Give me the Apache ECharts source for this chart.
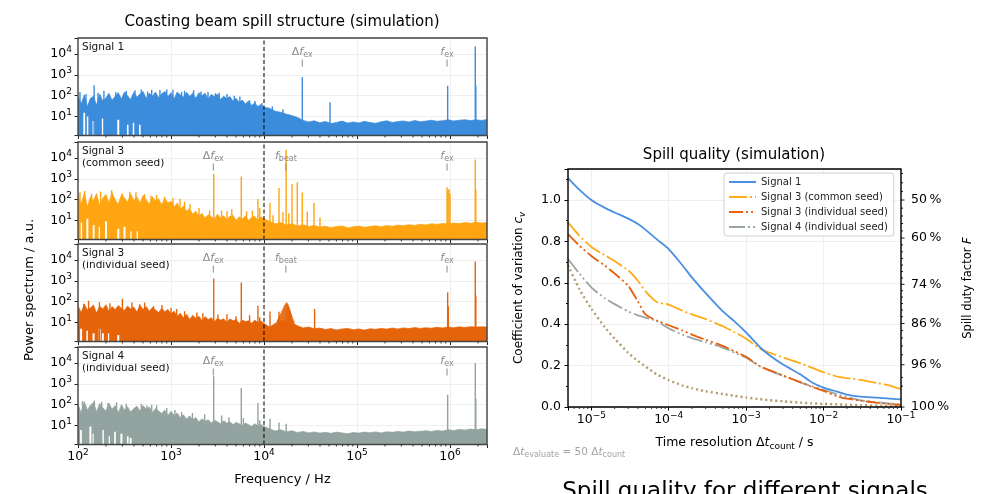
<!DOCTYPE html>
<html>
<head>
<meta charset="utf-8">
<title>Coasting beam spill structure</title>
<script src="https://cdn.jsdelivr.net/npm/echarts@6/dist/echarts.min.js"></script>
<style>
  html, body { margin: 0; padding: 0; background: #fff; }
  #main { width: 995px; height: 494px; }
</style>
</head>
<body>
<div id="main"></div>
<script>
// spectra: frequency grid (Hz) and the top of the noise band at each point
var freqs = [100,108,117,126,136,147,158,171,185,200,215,232,251,271,293,316,341,368,398,430,
  464,501,541,584,631,681,736,794,858,926,1000,1080,1166,1259,1359,1468,1585,1711,1848,1995,
  2154,2326,2512,2712,2929,3162,3415,3687,3981,4299,4642,5012,5412,5843,6310,6813,7356,7943,8577,9261,
  10000,11480,13180,15140,17380,19950,22910,26300,30200,34670,39810,45710,52480,60260,69180,79430,
  91200,104700,120200,138000,158500,182000,208900,239900,275400,316200,363100,416900,478600,549500,
  631000,724400,831800,955000,1096000,1259000,1445000,1660000,1905000,2188000,2512000];

var sig1Top = [90,40,110,30,75,95,35,120,55,80,
  130,60,95,140,70,150,100,65,145,85,
  120,160,75,130,95,150,80,125,160,90,
  140,70,150,110,85,145,95,130,75,140,
  100,130,70,115,90,120,65,95,75,90,
  55,75,48,62,40,55,34,45,30,38,
  28,25,18,16,13,11,9,6.5,5.5,6.2,5,
  5.8,4.6,5.2,6,4.8,5.5,4.9,5.9,5.1,4.7,
  5.6,6.2,5.2,5.7,6.1,5.4,6.4,5.6,6,6.6,
  5.9,6.3,6.9,6.1,6.6,7,6.4,6.9,6.5,7.2];
var sig1Gaps = [[117,15],[126,10],[147,6],[185,8],[271,7],[341,4],[398,5],[464,4]];
var sig1Spikes = [[105,150],[122,120],[149,320],[164,140],[190,170],[255,150],[330,170],[410,180],
  [480,200],[560,160],[620,190],[760,185],[900,200],[1050,190],[1300,150],[1400,170],[1750,180],
  [2100,160],[2500,150],[3000,130],[3300,140],[4000,120],[4800,100],[5500,90],[7000,60],[8000,55],
  [9500,45],[12300,30],[16000,22],
  [25800,780],[51300,48],[944000,300],[1870000,23000],[1895000,300]];

var sig3cTop = [170,60,210,45,140,90,200,50,120,180,
  70,220,100,60,170,120,75,190,90,140,
  70,160,100,60,140,85,110,55,120,70,
  85,45,70,35,50,28,38,20,28,16,
  22,13,19,15,12,20,13,17,11,16,
  18,10,15,12,17,10,14,16,10,15,
  12,9,7,8,6,7,5.5,6.3,5.2,5.8,4.8,
  5.3,4.6,5.1,5.5,4.5,5,5.4,4.7,5.2,5.6,
  5,5.7,5.3,6,5.6,6.3,5.8,6.6,6.1,7,
  6.5,7.2,6.8,7.6,7.1,8,7.4,8.2,7.6,8];
var sig3cGaps = [[108,8],[126,12],[147,6],[171,5],[200,9],[271,4],[316,5],[368,3],[430,3]];
var sig3cSpikes = [[105,230],[118,260],[140,190],[175,250],[230,280],[300,200],[360,240],[420,230],
  [520,180],[610,150],[700,170],[850,140],[1050,120],[1250,110],[1400,80],[1600,60],[2000,40],
  [2600,30],[3500,30],[4000,28],[4500,35],[6500,28],[7500,30],[9000,40],
  [2880,1700],[5700,1300],[8600,107],[11600,69],[12500,18],[14500,360],[16000,25],
  [17300,25000],[18500,22],[20000,560],[22800,690],[25800,220],[29200,27],[34500,69],[40000,14],
  [930000,400],[950000,280],[975000,330],[1000000,200],[1870000,8500],[1895000,300]];

var sig3iTop = [65,30,75,40,50,70,28,60,45,72,
  35,58,42,65,48,38,62,45,55,32,
  68,42,58,35,52,40,30,48,33,42,
  26,35,20,28,17,25,14,22,16,20,
  12,19,14,17,11,16,13,15,10,15,
  12,14,9,13,11,12,9,13,10,12,
  9,6,9,12,12,10,7,5.5,6,5,5.4,
  4.6,5.1,4.4,4.9,5.2,4.5,4.9,4.3,5,4.7,
  5.2,4.8,5.4,4.9,5.5,5.1,5.7,5.2,5.6,5.3,
  5.9,5.5,6.1,5.6,6.2,5.8,6.3,6,6.2,6];
var sig3iGaps = [[108,5],[126,4],[147,3],[171,5],[185,3],[215,3],[271,2.5]];
var sig3iSpikes = [[115,80],[130,110],[170,95],[220,85],[300,137],[380,90],[460,75],[520,90],
  [650,60],[800,70],[1000,50],[1150,45],[1400,35],[1900,30],[2200,28],[3200,24],[4000,25],
  [5000,20],[7000,22],[9000,18],
  [2880,1300],[5700,830],[8600,63],[11600,34],[14500,33],
  [14000,14],[14400,18],[14800,22],[15200,28],[15600,36],[16000,46],[16400,58],[16800,72],
  [17200,85],[17600,90],[18000,78],[18400,62],[18800,48],[19200,36],[19600,27],[20000,20],
  [20400,15],[20800,12],[35000,44],[944000,280],[960000,60],[1870000,8500],[1895000,200]];

var sig4Top = [110,40,140,55,95,130,45,115,70,50,
  120,60,90,40,100,55,80,45,65,85,
  50,90,60,78,42,65,50,38,55,30,
  48,30,40,24,33,20,29,19,24,15,
  21,16,19,13,18,15,12,17,13,15,
  11,14,12,10,13,11,9,12,10,11,
  9,7,5.5,6.2,5,5.6,4.6,5.2,4.4,4.9,4.3,
  4.7,4.2,4.8,4.4,4,4.6,4.3,4.8,4.5,4.9,
  4.4,5,4.7,5.2,4.8,5.4,5,5.3,5.6,5.2,
  5.8,5.4,6.2,5.7,6.5,6,6.8,6.2,7,6.5];
var sig4Gaps = [[108,6],[136,9],[147,4],[185,6],[215,3],[251,5],[293,4],[341,3],[368,2.5]];
var sig4Spikes = [[112,150],[150,160],[180,140],[210,120],[260,130],[330,110],[480,110],[550,90],
  [620,100],[700,95],[900,70],[1100,55],[1300,45],[1700,40],[2300,35],[3500,30],[4200,25],
  [6000,22],[9000,18],
  [2880,2300],[5700,630],[8600,120],[11600,21],[14500,14],[17300,12],
  [944000,300],[1870000,10000],[1895000,200]];

// annotation markers: [frequency, label kind]  0 = Δf_ex, 1 = f_beat, 2 = f_ex
var ann1 = [[25800, 0], [930000, 2]];
var ann2 = [[2850, 0], [17200, 1], [930000, 2]];
var ann3 = [[2850, 0], [17200, 1], [930000, 2]];
var ann4 = [[2850, 0], [930000, 2]];
var dashedAt = 10000;

// spill quality
var dtCount = [5e-6,7e-6,1e-5,1.5e-5,2e-5,3e-5,4e-5,5e-5,7e-5,1e-4,1.5e-4,2e-4,3e-4,5e-4,7e-4,
  1e-3,1.5e-3,2e-3,3e-3,5e-3,7e-3,1e-2,1.5e-2,2e-2,3e-2,5e-2,7e-2,1e-1];
var cvSignal1 = [1.106,1.05,1.0,0.962,0.94,0.91,0.884,0.857,0.81,0.763,0.685,0.625,0.55,0.462,0.415,
  0.36,0.29,0.25,0.205,0.158,0.12,0.094,0.074,0.06,0.05,0.045,0.04,0.037];
var cvSignal3c = [0.892,0.828,0.773,0.733,0.705,0.66,0.61,0.56,0.507,0.495,0.465,0.448,0.425,0.39,0.362,
  0.33,0.282,0.262,0.24,0.212,0.19,0.168,0.147,0.14,0.131,0.115,0.105,0.086];
var cvSignal3i = [0.835,0.78,0.73,0.683,0.645,0.585,0.51,0.447,0.418,0.395,0.37,0.35,0.325,0.295,0.27,
  0.243,0.197,0.178,0.152,0.12,0.098,0.078,0.052,0.04,0.031,0.02,0.014,0.01];
var cvSignal4 = [0.715,0.645,0.578,0.525,0.497,0.462,0.443,0.432,0.415,0.38,0.35,0.333,0.313,0.287,0.263,
  0.238,0.197,0.176,0.151,0.119,0.101,0.083,0.062,0.048,0.032,0.022,0.017,0.013];
var cvPoisson = [0.685,0.57,0.475,0.385,0.33,0.262,0.222,0.196,0.158,0.13,0.104,0.091,0.076,0.063,0.054,
  0.046,0.038,0.033,0.027,0.021,0.018,0.015,0.013,0.011,0.009,0.007,0.006,0.005];

var dutyMajor = [50, 60, 74, 86, 96, 100];
var dutyMinor = [44,46,48,52,54,56,58,62,64,66,68,70,72,76,78,80,82,84,88,90,92,94,98,99];

var FONT = 'DejaVu Sans';
var specMin = 1.22, specMax = 59000, fMin = 100, fMax = 2.5e6;
var tMin = 5e-6, tMax = 0.1, cvMax = 1.15;
var annTextAt = 12000, annTickTop = 5400, annTickBottom = 2500;

var panels = [
  { top: sig1Top, gaps: sig1Gaps, spikes: sig1Spikes, ann: ann1, color: '#3c8cdc', label: 'Signal 1' },
  { top: sig3cTop, gaps: sig3cGaps, spikes: sig3cSpikes, ann: ann2, color: '#fea511', label: 'Signal 3\n(common seed)' },
  { top: sig3iTop, gaps: sig3iGaps, spikes: sig3iSpikes, ann: ann3, color: '#e66409', label: 'Signal 3\n(individual seed)' },
  { top: sig4Top, gaps: sig4Gaps, spikes: sig4Spikes, ann: ann4, color: '#93a39f', label: 'Signal 4\n(individual seed)' }
];
var panelTops = [38, 142, 244, 347], panelHeight = 97.5;

// "10" with a raised exponent, as rich text
function powLabel(v) {
  var l = Math.log10(v), e = Math.round(l);
  if (Math.abs(l - e) > 1e-6) return '';
  return '{b|10}{p|' + String(e).replace('-', '\u2212') + '}';
}
var powRich = {
  b: { fontSize: 12.5, fontFamily: 'DejaVu Sans', color: '#000', lineHeight: 17 },
  p: { fontSize: 9, fontFamily: 'DejaVu Sans', color: '#000', lineHeight: 9, verticalAlign: 'top' }
};

function minorDecades(lo, hi, eFrom, eTo) {
  var out = [];
  for (var e = eFrom; e <= eTo; e++) {
    for (var m = 2; m <= 9; m++) {
      var v = m * Math.pow(10, e);
      if (v > lo * 1.0001 && v < hi * 0.9999) out.push(v);
    }
  }
  return out;
}

function spikeRender(color) {
  return function (params, api) {
    var a = api.coord([api.value(0), api.value(1)]);
    var b = api.coord([api.value(0), specMin]);
    return { type: 'rect', shape: { x: a[0] - 0.7, y: a[1], width: 1.4, height: b[1] - a[1] },
      style: { fill: color } };
  };
}

// white streaks at the bottom, where the noise never reached down to the axis
function gapRender(params, api) {
  var a = api.coord([api.value(0), api.value(1)]);
  var b = api.coord([api.value(0), specMin]);
  return { type: 'rect', shape: { x: a[0] - 1, y: a[1], width: 2, height: b[1] - a[1] + 1 },
    style: { fill: '#fff' } };
}

var annLabels = ['{d|\u0394}{i|f}{s|ex}', '{i|f}{s|beat}', '{i|f}{s|ex}'];
var annRich = {
  d: { fontSize: 11, fontFamily: FONT, fill: '#8a8a8a', color: '#8a8a8a', lineHeight: 14 },
  i: { fontSize: 11, fontFamily: FONT, fontStyle: 'italic', fill: '#8a8a8a', color: '#8a8a8a', lineHeight: 14 },
  s: { fontSize: 8, fontFamily: FONT, fill: '#8a8a8a', color: '#8a8a8a', lineHeight: 8, verticalAlign: 'bottom' }
};
function annRender(params, api) {
  var f = api.value(0);
  var p = api.coord([f, annTextAt]);
  var t1 = api.coord([f, annTickTop]);
  var t2 = api.coord([f, annTickBottom]);
  return { type: 'group', children: [
    { type: 'text', x: p[0], y: p[1],
      style: { text: annLabels[api.value(2)], rich: annRich, align: 'center', verticalAlign: 'middle',
        fill: '#8a8a8a', fontSize: 11, fontFamily: FONT } },
    { type: 'line', shape: { x1: t1[0], y1: t1[1], x2: t2[0], y2: t2[1] },
      style: { stroke: '#8a8a8a', lineWidth: 1 } }
  ] };
}

function dashRender(params, api) {
  var a = api.coord([api.value(0), api.value(1)]);
  var b = api.coord([api.value(0), api.value(2)]);
  return { type: 'line', shape: { x1: a[0], y1: a[1], x2: b[0], y2: b[1] },
    style: { stroke: '#000', lineWidth: 1, lineDash: [4, 2.5] } };
}

function tickSeries(xi, yi, vals, yAt, len) {
  return {
    type: 'custom', xAxisIndex: xi, yAxisIndex: yi, silent: true, clip: false, z: 11,
    data: vals.map(function (v) { return [v, yAt]; }),
    renderItem: function (params, api) {
      var p = api.coord([api.value(0), api.value(1)]);
      return { type: 'line', shape: { x1: p[0], y1: p[1], x2: p[0], y2: p[1] + len },
        style: { stroke: '#222', lineWidth: 0.9 } };
    }
  };
}

var fMinor = minorDecades(fMin, fMax, 2, 6);
var tMinor = minorDecades(tMin, tMax, -6, -2);

var grids = [], xAxes = [], yAxes = [], series = [], graphics = [];
var tickLabel = { color: '#000', fontSize: 12.5, fontFamily: FONT };
var gridLine = { show: true, lineStyle: { color: '#ebebeb', width: 0.8 } };

panels.forEach(function (p, i) {
  grids.push({ left: 78, top: panelTops[i], width: 409, height: panelHeight, show: true,
    borderColor: '#444', borderWidth: 1.4, backgroundColor: 'transparent', z: 10 });
  xAxes.push({
    type: 'log', gridIndex: i, min: fMin, max: fMax,
    axisLine: { show: false },
    axisTick: { length: 3.5, lineStyle: { color: '#222' } },
    axisLabel: Object.assign({ show: i === 3, formatter: powLabel, margin: 4, rich: powRich }, tickLabel),
    splitLine: gridLine,
    name: i === 3 ? 'Frequency / Hz' : '', nameLocation: 'middle', nameGap: 29,
    nameTextStyle: { fontSize: 13, color: '#000', fontFamily: FONT }
  });
  yAxes.push({
    type: 'log', gridIndex: i, min: specMin, max: specMax,
    axisLine: { show: false },
    axisTick: { length: 3.5, lineStyle: { color: '#222' } },
    axisLabel: Object.assign({ formatter: powLabel, margin: 6, rich: powRich }, tickLabel),
    splitLine: gridLine
  });
  series.push({
    type: 'line', xAxisIndex: i, yAxisIndex: i, silent: true, z: 2, symbol: 'none', showSymbol: false,
    clip: true, color: p.color,
    lineStyle: { color: p.color, width: 0.7 },
    areaStyle: { color: p.color, opacity: 1, origin: 'start' },
    data: freqs.map(function (f, k) { return [f, p.top[k]]; })
  });
  series.push({
    type: 'custom', xAxisIndex: i, yAxisIndex: i, clip: true, silent: true, z: 3,
    data: p.gaps, renderItem: gapRender
  });
  series.push({
    type: 'custom', xAxisIndex: i, yAxisIndex: i, clip: true, silent: true, z: 3,
    data: p.spikes, renderItem: spikeRender(p.color)
  });
  series.push({
    type: 'custom', xAxisIndex: i, yAxisIndex: i, clip: false, silent: true, z: 4,
    data: [[dashedAt, specMin, specMax]], encode: { x: 0, y: [1, 2] }, renderItem: dashRender
  });
  series.push({
    type: 'custom', xAxisIndex: i, yAxisIndex: i, clip: false, silent: true, z: 5,
    data: p.ann.map(function (a) { return [a[0], annTextAt, a[1]]; }), encode: { x: 0, y: 1 },
    renderItem: annRender
  });
  series.push(tickSeries(i, i, fMinor, specMin, 2));
  graphics.push({ type: 'text', left: 82, top: panelTops[i] + 3,
    style: { text: p.label, font: '10.5px "DejaVu Sans"', fill: '#111', lineHeight: 12.5 } });
});

// spill quality panel (grid 4)
grids.push({ left: 568, top: 169, width: 333, height: 238, show: true,
  borderColor: '#000', borderWidth: 1.4, backgroundColor: 'transparent', z: 10 });
xAxes.push({
  type: 'log', gridIndex: 4, min: tMin, max: tMax,
  axisLine: { show: false },
  axisTick: { length: 3.5, lineStyle: { color: '#000' } },
  axisLabel: Object.assign({ formatter: powLabel, margin: 4, rich: powRich }, tickLabel),
  splitLine: gridLine,
  name: '{n|Time resolution \u0394}{i|t}{s|count}{n| / s}', nameLocation: 'middle', nameGap: 28,
  nameTextStyle: { fontFamily: FONT, color: '#000', rich: {
    n: { fontSize: 12.5, fontFamily: FONT, color: '#000', lineHeight: 16 },
    i: { fontSize: 12.5, fontFamily: FONT, fontStyle: 'italic', color: '#000', lineHeight: 16 },
    s: { fontSize: 9, fontFamily: FONT, color: '#000', lineHeight: 9, verticalAlign: 'bottom' }
  } }
});
yAxes.push({
  type: 'value', gridIndex: 4, min: 0, max: cvMax, interval: 0.2,
  axisLine: { show: false },
  axisTick: { length: 3.5, lineStyle: { color: '#000' } },
  minorTick: { show: true, splitNumber: 2, length: 2, lineStyle: { color: '#000' } },
  axisLabel: Object.assign({ margin: 7, formatter: function (v) {
    return Math.abs(v / 0.2 - Math.round(v / 0.2)) > 1e-6 ? '' : v.toFixed(1);
  } }, tickLabel),
  splitLine: gridLine,
  name: '{n|Coefficient of variation }{i|c}{s|v}', nameLocation: 'middle', nameGap: 41,
  nameTextStyle: { fontFamily: FONT, color: '#000', rich: {
    n: { fontSize: 12, fontFamily: FONT, color: '#000', lineHeight: 16 },
    i: { fontSize: 12, fontFamily: FONT, fontStyle: 'italic', color: '#000', lineHeight: 16 },
    s: { fontSize: 8.5, fontFamily: FONT, fontStyle: 'italic', color: '#000', lineHeight: 9, verticalAlign: 'bottom' }
  } }
});
yAxes.push({
  type: 'value', gridIndex: 4, position: 'right', min: 0, max: cvMax,
  axisLine: { show: false }, axisTick: { show: false }, axisLabel: { show: false }, splitLine: { show: false },
  name: '{n|Spill duty factor }{i|F}', nameLocation: 'middle', nameGap: 61, nameRotate: 90,
  nameTextStyle: { fontFamily: FONT, color: '#000', rich: {
    n: { fontSize: 11.5, fontFamily: FONT, color: '#000' },
    i: { fontSize: 11.5, fontFamily: FONT, fontStyle: 'italic', color: '#000' }
  } }
});

function cvLine(name, values, color, dash, width) {
  return {
    type: 'line', name: name, xAxisIndex: 4, yAxisIndex: 4, symbol: 'none', showSymbol: false,
    smooth: 0.2, clip: true, color: color,
    lineStyle: { color: color, width: width || 1.8, type: dash || 'solid' },
    data: dtCount.map(function (t, k) { return [t, values[k]]; })
  };
}
series.push(cvLine('poisson', cvPoisson, '#b39b6c', [2, 3], 2.4));
series.push(cvLine('Signal 4 (individual seed)', cvSignal4, '#9ba6a3', [16, 3, 2, 3, 2, 3]));
series.push(cvLine('Signal 3 (individual seed)', cvSignal3i, '#e6600d', [14, 3, 2, 3, 2, 3]));
series.push(cvLine('Signal 3 (common seed)', cvSignal3c, '#ffab1a', [18, 3, 2, 3]));
series.push(cvLine('Signal 1', cvSignal1, '#4a90e2'));

// duty factor ticks on the right edge: F = 1 / (1 + cv^2)
function dutyToCv(F) { return Math.sqrt(100 / F - 1); }
series.push({
  type: 'custom', xAxisIndex: 4, yAxisIndex: 4, clip: false, silent: true, z: 11,
  data: dutyMajor.map(function (F) { return [tMax, dutyToCv(F), F, 1]; })
    .concat(dutyMinor.map(function (F) { return [tMax, dutyToCv(F), F, 0]; })),
  encode: { x: 0, y: 1 },
  renderItem: function (params, api) {
    var p = api.coord([api.value(0), api.value(1)]);
    var major = api.value(3) === 1;
    var children = [{ type: 'line', shape: { x1: p[0], y1: p[1], x2: p[0] + (major ? 3.5 : 2), y2: p[1] },
      style: { stroke: '#000', lineWidth: 0.9 } }];
    if (major) {
      children.push({ type: 'text', x: p[0] + 10, y: p[1],
        style: { text: api.value(2) + '\u2009%', fill: '#000', fontSize: 12.5, fontFamily: FONT,
          align: 'left', verticalAlign: 'middle' } });
    }
    return { type: 'group', children: children };
  }
});
series.push(tickSeries(4, 4, tMinor, 0, 2));

graphics.push({ type: 'text', x: 282, y: 22,
  style: { text: 'Coasting beam spill structure (simulation)', font: '15px "DejaVu Sans"', fill: '#000',
    align: 'center', verticalAlign: 'middle', textAlign: 'center', textVerticalAlign: 'middle' } });
graphics.push({ type: 'text', x: 734, y: 155,
  style: { text: 'Spill quality (simulation)', font: '15px "DejaVu Sans"', fill: '#000',
    align: 'center', verticalAlign: 'middle', textAlign: 'center', textVerticalAlign: 'middle' } });
graphics.push({ type: 'text', x: 30, y: 290, rotation: Math.PI / 2,
  style: { text: 'Power spectrum / a.u.', font: '13px "DejaVu Sans"', fill: '#000',
    align: 'center', verticalAlign: 'middle', textAlign: 'center', textVerticalAlign: 'middle' } });
graphics.push({ type: 'text', x: 513, y: 452,
  style: { text: '{n|\u0394}{i|t}{s|evaluate}{n| = 50 \u0394}{i|t}{s|count}', align: 'left', verticalAlign: 'middle',
    rich: {
      n: { fontSize: 10.5, fontFamily: FONT, fill: '#a3a3a3', lineHeight: 13 },
      i: { fontSize: 10.5, fontFamily: FONT, fontStyle: 'italic', fill: '#a3a3a3', lineHeight: 13 },
      s: { fontSize: 8, fontFamily: FONT, fill: '#a3a3a3', lineHeight: 8, verticalAlign: 'bottom' }
    } } });
graphics.push({ type: 'text', x: 745, y: 492,
  style: { text: 'Spill quality for different signals', font: '23px "DejaVu Sans"', fill: '#000',
    align: 'center', verticalAlign: 'middle', textAlign: 'center', textVerticalAlign: 'middle' } });

var chart = echarts.init(document.getElementById('main'));
chart.setOption({
  animation: false,
  backgroundColor: '#fff',
  textStyle: { fontFamily: FONT },
  grid: grids,
  xAxis: xAxes,
  yAxis: yAxes,
  legend: {
    data: ['Signal 1', 'Signal 3 (common seed)', 'Signal 3 (individual seed)', 'Signal 4 (individual seed)'],
    orient: 'vertical', left: 724, top: 173, itemWidth: 27, itemHeight: 10, itemGap: 5,
    padding: [4, 6, 4, 4], backgroundColor: 'rgba(255,255,255,0.85)', borderColor: '#d0d0d0',
    borderWidth: 1, borderRadius: 3,
    itemStyle: { opacity: 0 },
    textStyle: { fontSize: 10, color: '#222', fontFamily: FONT }
  },
  graphic: graphics,
  series: series
});
</script>
</body>
</html>
